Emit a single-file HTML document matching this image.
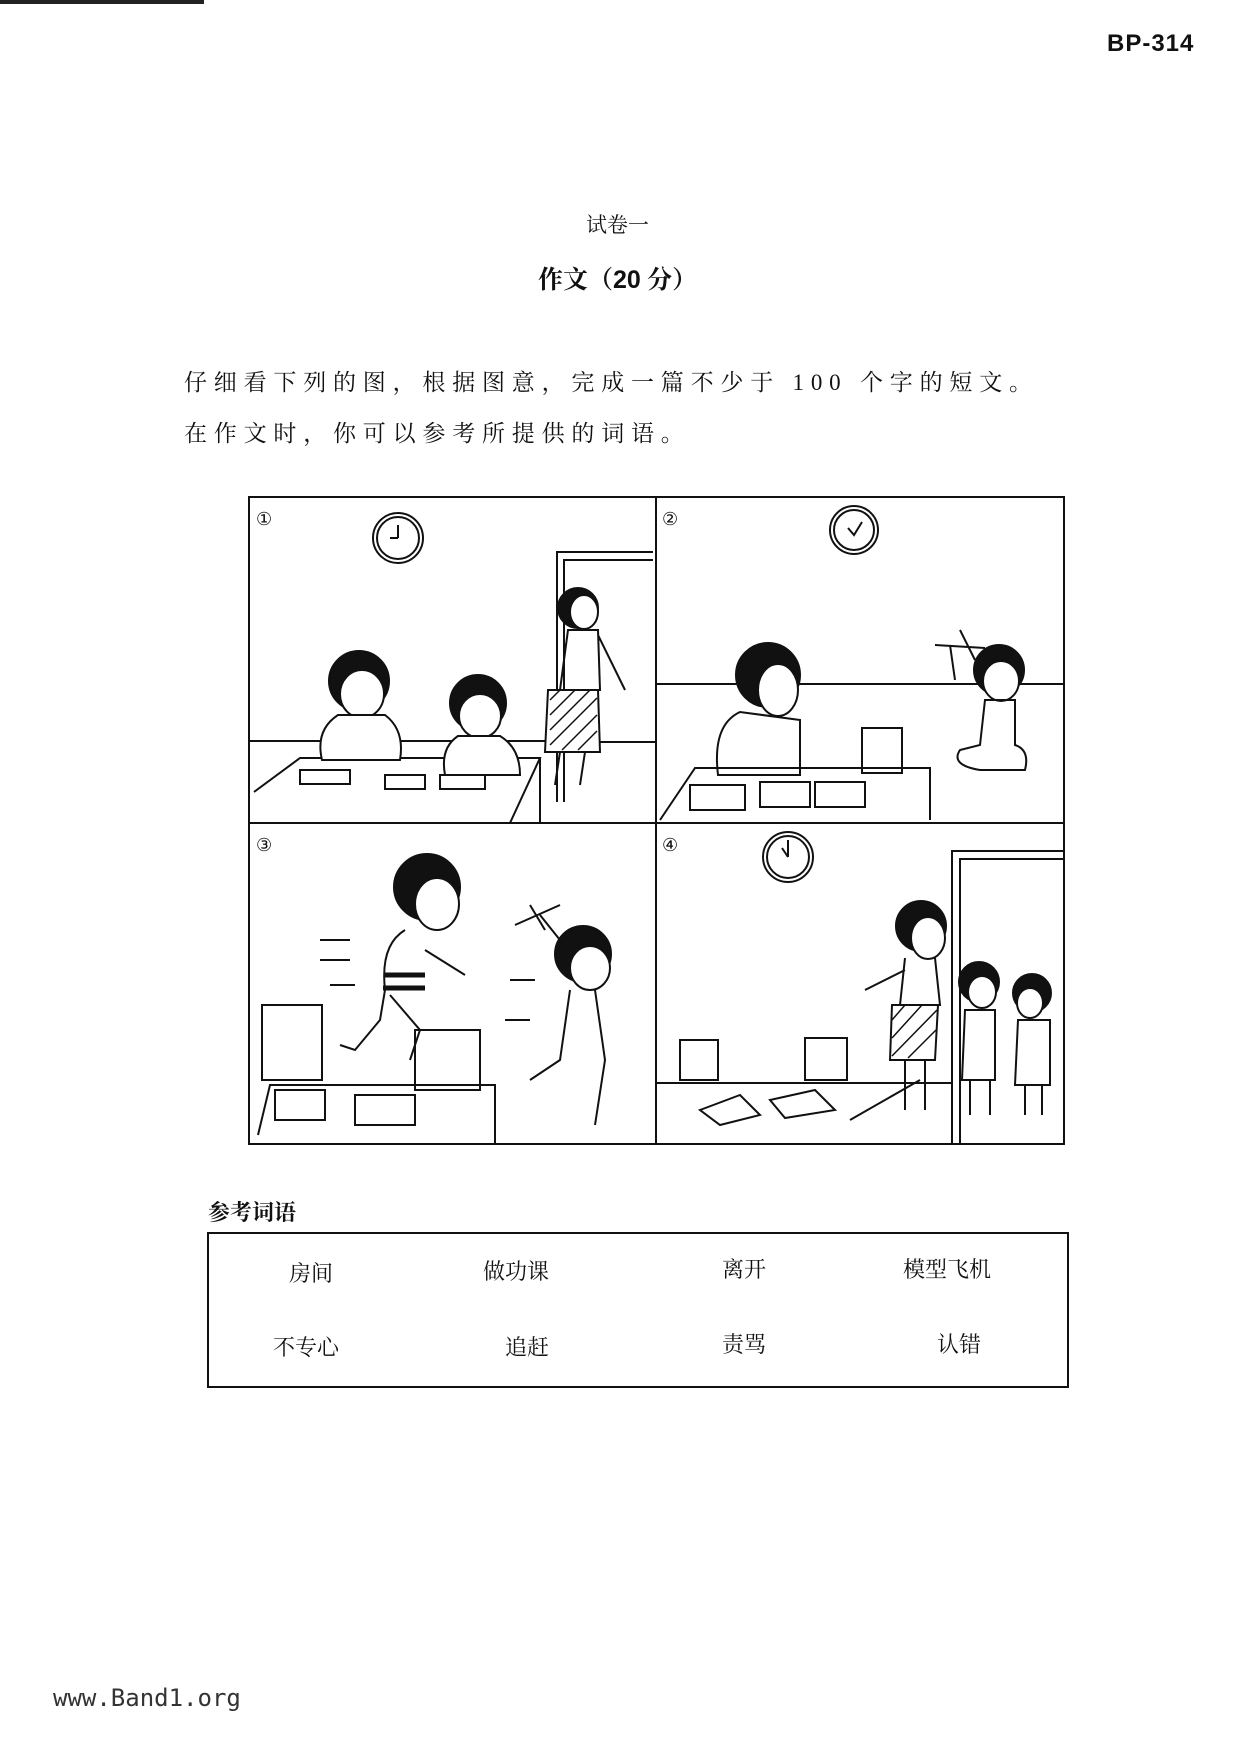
<!DOCTYPE html>
<html><head><meta charset="utf-8"><style>
html,body{margin:0;padding:0;background:#fff;}
body{width:1239px;height:1754px;position:relative;overflow:hidden;font-family:"Liberation Serif","Noto Serif CJK SC","Noto Sans CJK SC",serif;color:#111;}
.a{position:absolute;white-space:nowrap;}
</style></head><body>
<div class="a" style="left:0;top:0;width:204px;height:4px;background:#222"></div>
<div class="a" style="left:1107px;top:30px;font:bold 24px 'Liberation Sans',sans-serif;letter-spacing:1px">BP-314</div>
<div class="a" style="left:586px;top:209px;font-size:21px">试卷一</div>
<div class="a" style="left:538px;top:260px;font-size:25px;font-weight:bold">作文（<span style="font-family:'Liberation Sans'">20</span> 分）</div>
<div class="a" style="left:184px;top:364px;font-size:23px;letter-spacing:6.8px">仔细看下列的图，根据图意，完成一篇不少于 100 个字的短文。</div>
<div class="a" style="left:184px;top:415px;font-size:23px;letter-spacing:6.8px">在作文时，你可以参考所提供的词语。</div>

<svg class="a" style="left:0;top:0" width="1239" height="1754" fill="none" stroke="#111" stroke-width="2">
<rect x="249" y="497" width="815" height="647"/>
<line x1="656" y1="497" x2="656" y2="1144"/>
<line x1="249" y1="823" x2="1064" y2="823"/>
<g font-size="18" fill="#111" stroke="none" font-family="DejaVu Sans,sans-serif">
<text x="256" y="525">①</text><text x="662" y="525">②</text><text x="256" y="851">③</text><text x="662" y="851">④</text></g>
<circle cx="398" cy="538" r="25"/><circle cx="398" cy="538" r="21"/><line x1="398" y1="538" x2="398" y2="525"/><line x1="398" y1="538" x2="390" y2="538"/>
<path d="M557 802 V552 H653 M564 802 V560 H653"/>
<line x1="249" y1="741" x2="557" y2="741"/><line x1="557" y1="742" x2="656" y2="742"/>
<path d="M254 792 L300 758 H540 L510 823 M540 758 V823"/>
<circle cx="359" cy="681" r="30" fill="#111"/><ellipse cx="362" cy="694" rx="22" ry="24" fill="#fff"/>
<path d="M338 715 Q315 730 322 760 L400 760 Q405 730 385 715 Z" fill="#fff"/>
<circle cx="478" cy="703" r="28" fill="#111"/><ellipse cx="480" cy="716" rx="21" ry="22" fill="#fff"/>
<path d="M458 736 Q440 748 445 775 L520 775 Q520 748 500 736 Z" fill="#fff"/>
<rect x="300" y="770" width="50" height="14"/><rect x="385" y="775" width="40" height="14"/><rect x="440" y="775" width="45" height="14"/>
<circle cx="578" cy="608" r="20" fill="#111"/><ellipse cx="584" cy="612" rx="14" ry="17" fill="#fff"/>
<path d="M568 630 L560 690 L600 690 L598 630 Z M598 635 L625 690"/>
<path d="M548 690 L545 752 L600 752 L598 690 Z" fill="#fff"/>
<g stroke-width="1.5"><line x1="550" y1="700" x2="560" y2="690"/><line x1="550" y1="715" x2="575" y2="690"/><line x1="550" y1="730" x2="590" y2="690"/><line x1="550" y1="745" x2="597" y2="698"/><line x1="562" y1="750" x2="597" y2="715"/><line x1="578" y1="750" x2="597" y2="731"/></g>
<path d="M560 752 L555 785 M585 752 L580 785"/>
<circle cx="854" cy="530" r="24"/><circle cx="854" cy="530" r="20"/><path d="M848 528 L854 535 L862 522"/>
<line x1="656" y1="684" x2="1064" y2="684"/>
<circle cx="768" cy="675" r="32" fill="#111"/><ellipse cx="778" cy="690" rx="20" ry="26" fill="#fff"/>
<path d="M740 712 Q712 725 718 775 L800 775 L800 720 Z" fill="#fff"/>
<rect x="862" y="728" width="40" height="45"/>
<path d="M660 820 L695 768 H930 V820"/>
<rect x="690" y="785" width="55" height="25"/><rect x="760" y="782" width="50" height="25"/><rect x="815" y="782" width="50" height="25"/>
<circle cx="999" cy="670" r="25" fill="#111"/><ellipse cx="1001" cy="681" rx="18" ry="20" fill="#fff"/>
<path d="M985 700 L980 745 L960 750 Q950 765 980 770 L1025 770 Q1030 750 1015 745 L1015 700 Z"/>
<path d="M935 645 L985 648 M960 630 L975 660 M950 645 L955 680"/>
<circle cx="427" cy="887" r="33" fill="#111"/><ellipse cx="437" cy="904" rx="22" ry="26" fill="#fff"/>
<path d="M405 930 Q380 945 385 990 L380 1020 L355 1050 L340 1045 M390 995 L420 1030 L410 1060 M425 950 L465 975"/>
<path d="M385 975 L425 975 M383 988 L425 988" stroke-width="5"/>
<rect x="262" y="1005" width="60" height="75"/><rect x="415" y="1030" width="65" height="60"/>
<path d="M258 1135 L270 1085 H495 V1144"/>
<rect x="275" y="1090" width="50" height="30"/><rect x="355" y="1095" width="60" height="30"/>
<path d="M320 940 h30 M320 960 h30 M330 985 h25 M510 980 h25 M505 1020 h25"/>
<circle cx="583" cy="954" r="28" fill="#111"/><ellipse cx="590" cy="968" rx="20" ry="22" fill="#fff"/>
<path d="M570 990 L560 1060 L530 1080 M595 990 L605 1060 L595 1125 M560 940 L540 915"/>
<path d="M515 925 L560 905 M530 905 L545 930"/>
<circle cx="788" cy="857" r="25"/><circle cx="788" cy="857" r="21"/><path d="M788 857 V840 M788 857 L782 848"/>
<path d="M952 1144 V851 H1064 M960 1144 V859 H1064"/>
<line x1="656" y1="1083" x2="952" y2="1083"/>
<rect x="680" y="1040" width="38" height="40"/><rect x="805" y="1038" width="42" height="42"/>
<path d="M700 1110 L740 1095 L760 1115 L720 1125 Z M770 1100 L815 1090 L835 1110 L785 1118 Z M850 1120 L920 1080"/>
<circle cx="921" cy="926" r="25" fill="#111"/><ellipse cx="928" cy="938" rx="17" ry="21" fill="#fff"/>
<path d="M905 958 L900 1005 L940 1005 L935 958 M905 970 L865 990"/>
<path d="M892 1005 L890 1060 L935 1060 L938 1005 Z" fill="#fff"/>
<g stroke-width="1.5"><line x1="892" y1="1020" x2="905" y2="1005"/><line x1="892" y1="1038" x2="922" y2="1005"/><line x1="892" y1="1056" x2="937" y2="1010"/><line x1="908" y1="1058" x2="936" y2="1030"/></g>
<path d="M905 1060 L905 1110 M925 1060 L925 1110"/>
<circle cx="979" cy="982" r="20" fill="#111"/><ellipse cx="982" cy="992" rx="14" ry="16" fill="#fff"/>
<path d="M965 1010 L962 1080 L995 1080 L995 1010 Z M970 1080 V1115 M990 1080 V1115"/>
<circle cx="1032" cy="993" r="19" fill="#111"/><ellipse cx="1030" cy="1003" rx="13" ry="15" fill="#fff"/>
<path d="M1018 1020 L1015 1085 L1050 1085 L1050 1020 Z M1025 1085 V1115 M1042 1085 V1115"/>
<rect x="208" y="1233" width="860" height="154" stroke-width="2"/>
</svg>

<div class="a" style="left:208px;top:1196px;font-size:22px;font-weight:bold">参考词语</div>
<div class="a" style="left:289px;top:1257px;font-size:22px">房间</div>
<div class="a" style="left:483px;top:1255px;font-size:22px">做功课</div>
<div class="a" style="left:722px;top:1253px;font-size:22px">离开</div>
<div class="a" style="left:903px;top:1253px;font-size:22px">模型飞机</div>
<div class="a" style="left:273px;top:1331px;font-size:22px">不专心</div>
<div class="a" style="left:505px;top:1331px;font-size:22px">追赶</div>
<div class="a" style="left:722px;top:1328px;font-size:22px">责骂</div>
<div class="a" style="left:937px;top:1328px;font-size:22px">认错</div>
<div class="a" style="left:53px;top:1684px;font:24px 'DejaVu Sans Mono','Liberation Mono',monospace;color:#333">www.Band1.org</div>
</body></html>
